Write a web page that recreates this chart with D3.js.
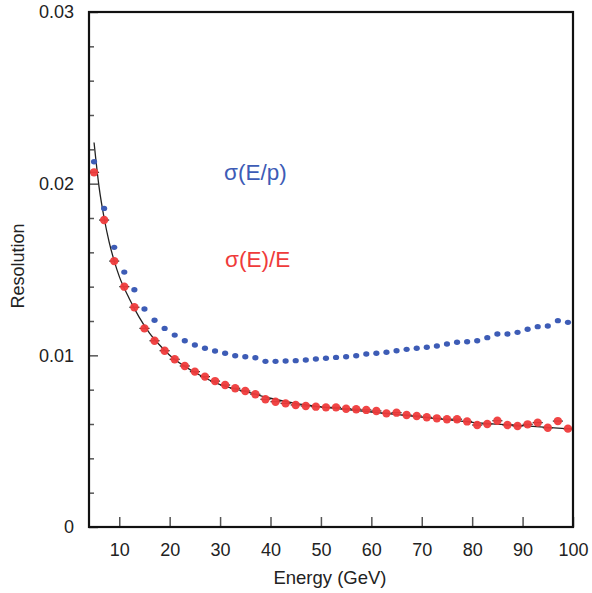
<!DOCTYPE html>
<html>
<head>
<meta charset="utf-8">
<script src="https://cdn.jsdelivr.net/npm/d3@7"></script>
<style>
  html, body { margin: 0; padding: 0; background: #fff; }
  svg { display: block; font-family: "Liberation Sans", Arial, sans-serif; }
</style>
</head>
<body>
<svg id="chart" width="592" height="593"></svg>
<script>
// ---- data ----
const energies = [5,7,9,11,13,15,17,19,21,23,25,27,29,31,33,35,37,39,41,43,45,47,49,51,53,55,57,59,61,63,65,67,69,71,73,75,77,79,81,83,85,87,89,91,93,95,97,99];
const sigmaEp = [0.02128,0.01856,0.01629,0.01485,0.01382,0.01270,0.01204,0.01157,0.01118,0.01085,0.01060,0.01041,0.01025,0.01012,0.00998,0.00992,0.00986,0.00965,0.00965,0.00967,0.00969,0.00973,0.00979,0.00983,0.00988,0.00992,0.00998,0.01008,0.01012,0.01018,0.01027,0.01035,0.01041,0.01047,0.01054,0.01066,0.01076,0.01079,0.01085,0.01103,0.01124,0.01124,0.01134,0.01152,0.01167,0.01171,0.01202,0.01192];
const sigmaEE = [0.02066,0.01788,0.01549,0.01400,0.01280,0.01157,0.01085,0.01027,0.00977,0.00938,0.00905,0.00876,0.00850,0.00827,0.00808,0.00792,0.00773,0.00744,0.00730,0.00720,0.00711,0.00705,0.00701,0.00697,0.00697,0.00689,0.00686,0.00682,0.00676,0.00662,0.00666,0.00652,0.00647,0.00639,0.00633,0.00628,0.00628,0.00615,0.00594,0.00600,0.00619,0.00594,0.00588,0.00598,0.00608,0.00578,0.00617,0.00573];
const fitE = [5,6,7,8,9,10,12,14,16,18,20,25,30,35,40,45,50,60,70,80,90,100];
const fitV = [0.0224,0.0198,0.0180,0.0166,0.0155,0.0146,0.0133,0.0122,0.0113,0.0106,0.0100,0.0090,0.0083,0.0079,0.0075,0.0072,0.0070,0.0067,0.0064,0.0061,0.0059,0.0057];
const xTicks = [10,20,30,40,50,60,70,80,90,100];
const yMajorTicks = [0,0.01,0.02,0.03];
const yMinorTicks = [0.002,0.004,0.006,0.008,0.012,0.014,0.016,0.018,0.022,0.024,0.026,0.028];
const yTickLabels = ["0","0.01","0.02","0.03"];
const seriesLabels = ["σ(E/p)", "σ(E)/E"];

// ---- layout ----
const L = 89, R = 573, T = 12, B = 527;
const svg = d3.select("#chart");
const x = d3.scaleLinear().domain([4, 100]).range([L, R]);
const y = d3.scaleLinear().domain([0, 0.03]).range([B, T]);

// x axis (ticks inside)
const xAxis = d3.axisBottom(x).tickValues(xTicks).tickSizeInner(-10).tickSizeOuter(0).tickPadding(16).tickFormat(d3.format("d"));
const gx = svg.append("g").attr("transform", `translate(0,${B})`).call(xAxis);
gx.select(".domain").remove();
gx.selectAll(".tick line").attr("stroke", "#555").attr("stroke-width", 1.5);
gx.selectAll(".tick text").attr("font-size", 18).attr("fill", "#222").attr("font-family", "Liberation Sans, Arial, sans-serif");

// y axis major
const yAxis = d3.axisLeft(y).tickValues(yMajorTicks).tickSizeInner(-9).tickSizeOuter(0).tickPadding(15)
  .tickFormat((d, i) => yTickLabels[i]);
const gy = svg.append("g").attr("transform", `translate(${L},0)`).call(yAxis);
gy.select(".domain").remove();
gy.selectAll(".tick line").attr("stroke", "#555").attr("stroke-width", 1.5);
gy.selectAll(".tick text").attr("font-size", 18).attr("fill", "#222").attr("font-family", "Liberation Sans, Arial, sans-serif");

// y axis minor
const yMinor = d3.axisLeft(y).tickValues(yMinorTicks).tickSizeInner(-5).tickSizeOuter(0).tickFormat("");
const gym = svg.append("g").attr("transform", `translate(${L},0)`).call(yMinor);
gym.select(".domain").remove();
gym.selectAll(".tick line").attr("stroke", "#555").attr("stroke-width", 1.5);

// clip
svg.append("clipPath").attr("id", "clip").append("rect").attr("x", L).attr("y", T).attr("width", R - L).attr("height", B - T);
const plot = svg.append("g").attr("clip-path", "url(#clip)");

// fit curve
const line = d3.line().x((d, i) => x(fitE[i])).y((d, i) => y(fitV[i])).curve(d3.curveMonotoneX);
plot.append("path").datum(fitV).attr("d", line).attr("fill", "none").attr("stroke", "#222").attr("stroke-width", 1.3);

// blue series
plot.selectAll("ellipse.ep").data(sigmaEp).enter().append("ellipse").attr("class", "ep")
  .attr("cx", (d, i) => x(energies[i])).attr("cy", d => y(d)).attr("rx", 3.1).attr("ry", 2.7)
  .attr("fill", "#3d5cb6");

// red series error bars
plot.selectAll("line.eb").data(sigmaEE).enter().append("line").attr("class", "eb")
  .attr("x1", (d, i) => x(energies[i] - 1)).attr("x2", (d, i) => x(energies[i] + 1))
  .attr("y1", d => y(d)).attr("y2", d => y(d)).attr("stroke", "#222").attr("stroke-width", 1.2);

// red series
plot.selectAll("circle.ee").data(sigmaEE).enter().append("circle").attr("class", "ee")
  .attr("cx", (d, i) => x(energies[i])).attr("cy", d => y(d)).attr("r", 4.2)
  .attr("fill", "#ef3b3b").attr("fill-opacity", 0.95);

// frame
svg.append("rect").attr("x", L).attr("y", T).attr("width", R - L).attr("height", B - T)
  .attr("fill", "none").attr("stroke", "#111").attr("stroke-width", 2.2);

// series labels
svg.append("text").attr("x", 224).attr("y", 180).attr("font-size", 22.5).attr("fill", "#3d5cb6").text(seriesLabels[0]);
svg.append("text").attr("x", 225).attr("y", 267).attr("font-size", 22.5).attr("fill", "#ef3b3b").text(seriesLabels[1]);

// axis titles
svg.append("text").attr("x", 330).attr("y", 584).attr("text-anchor", "middle").attr("font-size", 18.5).attr("fill", "#222").text("Energy (GeV)");
svg.append("text").attr("transform", "translate(24,266) rotate(-90)").attr("text-anchor", "middle").attr("font-size", 18).attr("fill", "#222").text("Resolution");
</script>
</body>
</html>
